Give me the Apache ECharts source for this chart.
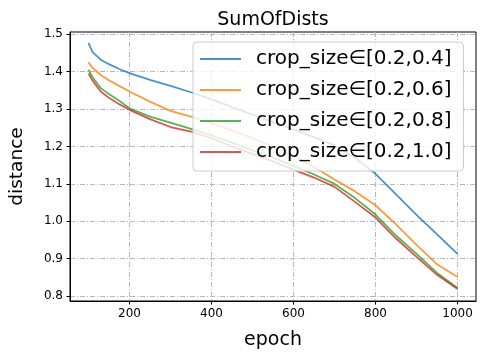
<!DOCTYPE html>
<html lang="en">
<head>
  <meta charset="UTF-8">
  <title>SumOfDists</title>
  <script src="https://cdn.jsdelivr.net/npm/echarts@6/dist/echarts.min.js"></script>
</head>
<body>
  <style>
    html, body, #chart {
      width: 100%;
      height: 100%;
      margin: 0;
      padding: 0;
    }
  </style>
  <div id="chart"></div>
  <script>
    const epochs = [100, 110, 130, 150, 175, 200, 250, 300, 350, 400, 450, 500, 550, 600, 650, 700, 750, 800, 850, 900, 950, 1000]
    const dist04 = [1.477, 1.452, 1.432, 1.42, 1.407, 1.396, 1.378, 1.362, 1.345, 1.326, 1.305, 1.285, 1.265, 1.245, 1.225, 1.203, 1.17, 1.127, 1.072, 1.017, 0.965, 0.913]
    const dist06 = [1.425, 1.41, 1.391, 1.377, 1.362, 1.347, 1.32, 1.295, 1.28, 1.262, 1.243, 1.222, 1.2, 1.175, 1.145, 1.112, 1.08, 1.043, 0.992, 0.937, 0.885, 0.851]
    const dist08 = [1.405, 1.385, 1.356, 1.34, 1.322, 1.302, 1.28, 1.264, 1.247, 1.23, 1.21, 1.19, 1.17, 1.148, 1.125, 1.1, 1.062, 1.018, 0.962, 0.913, 0.862, 0.822]
    const dist10 = [1.395, 1.376, 1.347, 1.33, 1.313, 1.298, 1.273, 1.252, 1.24, 1.222, 1.2, 1.18, 1.16, 1.138, 1.117, 1.092, 1.052, 1.01, 0.954, 0.905, 0.857, 0.819]
    const seriesNames = ['crop_size∈[0.2,0.4]', 'crop_size∈[0.2,0.6]', 'crop_size∈[0.2,0.8]', 'crop_size∈[0.2,1.0]']
    const xTicks = [200, 400, 600, 800, 1000]
    const yTicks = [0.8, 0.9, 1.0, 1.1, 1.2, 1.3, 1.4, 1.5]

    const colors = ['#1f77b4', '#ff7f0e', '#2ca02c', '#d62728']
    const font = 'DejaVu Sans'
    const gridLine = { color: '#b8b8b8', width: 1, type: [5, 2, 1, 2] }

    const chart = echarts.init(document.getElementById('chart'))

    const series = [dist04, dist06, dist08, dist10].map((vals, i) => ({
      name: seriesNames[i],
      type: 'line',
      symbol: 'none',
      data: epochs.map((e, j) => [e, vals[j]]),
      lineStyle: { width: 1.8, color: colors[i], opacity: 0.8 },
      itemStyle: { color: colors[i], opacity: 0.8 }
    }))

    chart.setOption({
      animation: false,
      title: {
        text: 'SumOfDists',
        left: 268,
        top: 6,
        textAlign: 'center',
        textStyle: { fontFamily: font, fontSize: 19, fontWeight: 'normal', color: '#000' }
      },
      grid: {
        left: 61, right: 9, top: 32, bottom: 54,
        show: true, borderColor: '#000', borderWidth: 1
      },
      legend: {
        orient: 'vertical',
        left: 193,
        top: 42,
        icon: 'rect',
        itemWidth: 41,
        itemHeight: 2,
        itemGap: 9,
        padding: [6, 12, 8, 7],
        backgroundColor: 'rgba(255,255,255,0.8)',
        borderColor: '#cccccc',
        borderWidth: 1,
        borderRadius: 4,
        textStyle: { fontFamily: font, fontSize: 20, color: '#000', lineHeight: 22, padding: [0, 0, 0, 10] }
      },
      xAxis: {
        type: 'value',
        min: 55,
        max: 1045,
        name: 'epoch',
        nameLocation: 'middle',
        nameGap: 30,
        nameTextStyle: { fontFamily: font, fontSize: 19, color: '#000' },
        axisLine: { lineStyle: { color: '#000', width: 1 } },
        axisTick: { show: true, length: 3.5, customValues: xTicks, lineStyle: { color: '#000' } },
        axisLabel: {
          customValues: xTicks, margin: 7, fontFamily: font, fontSize: 12, color: '#000',
          formatter: v => String(v)
        },
        splitLine: { show: true, lineStyle: gridLine }
      },
      yAxis: {
        type: 'value',
        min: 0.787,
        max: 1.506,
        name: 'distance',
        nameLocation: 'middle',
        nameGap: 43,
        nameTextStyle: { fontFamily: font, fontSize: 18.5, color: '#000' },
        axisLine: { show: true, lineStyle: { color: '#000', width: 1 } },
        axisTick: { show: true, length: 3.5, customValues: yTicks, lineStyle: { color: '#000' } },
        axisLabel: {
          customValues: yTicks, margin: 7, fontFamily: font, fontSize: 12, color: '#000',
          formatter: v => v.toFixed(1)
        },
        splitLine: { show: true, lineStyle: gridLine }
      },
      series
    })
  </script>
</body>
</html>
